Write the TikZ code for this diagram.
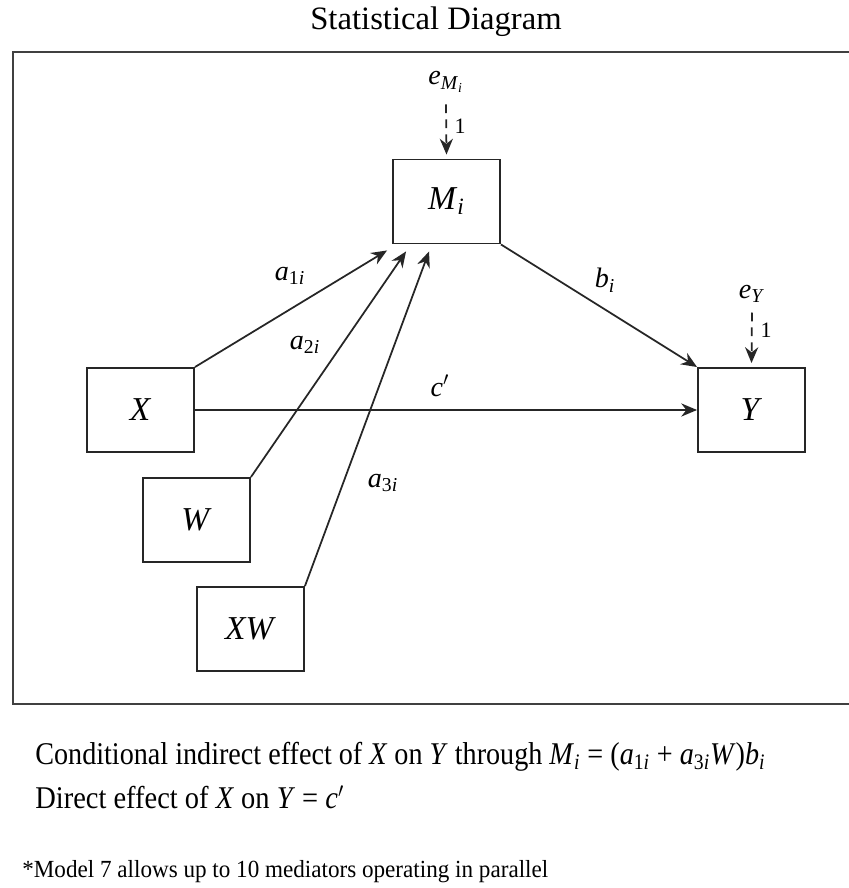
\documentclass[tikz,border=0pt]{standalone}
\usepackage{fontspec}
\setmainfont{Liberation Serif}
\usepackage{graphicx}
\usetikzlibrary{arrows.meta}

\newcommand{\vi}[1]{\textit{#1}}
\newcommand{\sbi}[1]{\textsubscript{#1}}

\begin{document}
\begin{tikzpicture}[x=0.02cm, y=-0.02cm,
  varbox/.style={draw=black!85, line width=1.1pt, minimum width=2.14cm, minimum height=1.68cm, inner sep=0pt, font=\fontsize{19}{22}\selectfont},
  effect/.style={-{Stealth[length=9pt,width=7.5pt]}, line width=1pt, black!85},
  errarrow/.style={effect, dash pattern=on 5pt off 3.5pt},
  coef/.style={font=\fontsize{16}{19}\selectfont, inner sep=1pt},
  one/.style={font=\fontsize{12.5}{14}\selectfont, inner sep=1pt},
  note/.style={anchor=west, inner sep=0pt, font=\fontsize{18}{22}\selectfont}]
\useasboundingbox (0,0) rectangle (848,888);
% Frame and title
\draw[line width=1.2pt, black!75] (13,52) rectangle (870,704);
\node[font=\fontsize{18.6}{22}\selectfont] (title) at (436,22) {Statistical Diagram};
% Variables
\node[varbox] (M) at (446.5,201.5) {\vi{M}\sbi{\vi{i}}};
\node[varbox] (X) at (140.5,410) {\vi{X}};
\node[varbox] (Y) at (751.5,410) {\vi{Y}};
\node[varbox] (W) at (196.5,520) {\vi{W}};
\node[varbox] (XW) at (250.5,629) {\vi{XW}};
% Error terms
\node[coef] (eM) at (446,82) {\vi{e}\sbi{\vi{M}\sbi{\vi{i}}}};
\node[coef] (eY) at (752,294) {\vi{e}\sbi{\vi{Y}}};
\draw[errarrow] ([yshift=-0.2cm]eM.south) -- ([yshift=0.08cm]M.north);
\draw[errarrow] ([yshift=-0.15cm]eY.south) -- ([yshift=0.08cm]Y.north);
\node[one] (oneM) at (460,126) {1};
\node[one] (oneY) at (766,330) {1};
% Paths
\draw[effect] (X.north east) -- ([xshift=-0.1cm,yshift=-0.12cm]M.south west);
\draw[effect] (W.north east) -- ([xshift=0.28cm,yshift=-0.14cm]M.south west);
\draw[effect] (XW.north east) -- ([xshift=0.74cm,yshift=-0.14cm]M.south west);
\draw[effect] (M.south east) -- (Y.north west);
\draw[effect] (X.east) -- (Y.west);
% Coefficients
\node[coef] (a1) at (290,276) {\vi{a}\sbi{1\vi{i}}};
\node[coef] (a2) at (305,345) {\vi{a}\sbi{2\vi{i}}};
\node[coef] (a3) at (383,483) {\vi{a}\sbi{3\vi{i}}};
\node[coef] (b) at (605,280) {\vi{b}\sbi{\vi{i}}};
\node[coef] (cp) at (440,386) {\vi{c}$'$};
% Effects
\node[note] (ind) at (35,757) {\scalebox{0.89}[1]{Conditional indirect effect of \vi{X} on \vi{Y} through \vi{M}\sbi{\vi{i}} = (\vi{a}\sbi{1\vi{i}} + \vi{a}\sbi{3\vi{i}}\vi{W})\vi{b}\sbi{\vi{i}}}};
\node[note] (dir) at (35,797) {\scalebox{0.9}[1]{Direct effect of \vi{X} on \vi{Y} = \vi{c}$'$}};
\node[note, font=\fontsize{14}{17}\selectfont] (foot) at (22,872) {\scalebox{0.94}[1]{*Model 7 allows up to 10 mediators operating in parallel}};
\end{tikzpicture}
\end{document}
